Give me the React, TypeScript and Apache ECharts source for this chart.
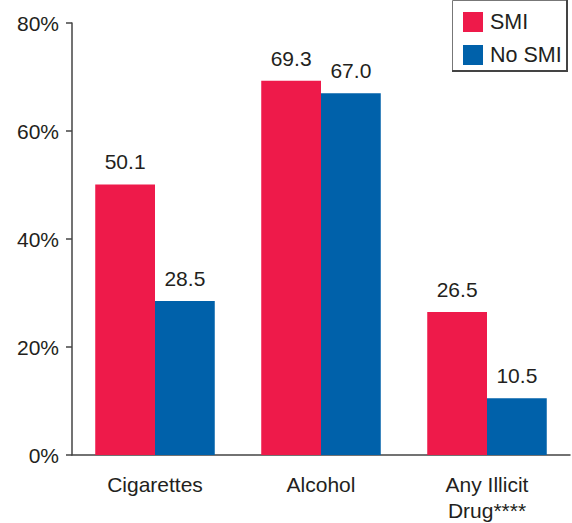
import React, { useEffect, useRef } from "react";
import * as echarts from "echarts";

const categories = ["Cigarettes", "Alcohol", "Any Illicit\nDrug****"];
const smiValues = [50.1, 69.3, 26.5];
const noSmiValues = [28.5, 67.0, 10.5];
const seriesNames = ["SMI", "No SMI"];
const yTicks = { min: 0, max: 80, interval: 20 };

const RED = "#EE1A4A";
const BLUE = "#0061AA";
const TEXT = "#231F20";
const FONT = "'Liberation Sans', Arial, Helvetica, sans-serif";

export default function App() {
  const ref = useRef<HTMLDivElement>(null);
  useEffect(() => {
    if (!ref.current) return;
    const chart = echarts.init(ref.current, undefined, { renderer: "svg" });
    const label = {
      show: true,
      position: "top",
      distance: 12,
      fontSize: 21,
      fontFamily: FONT,
      color: TEXT,
      formatter: (p: any) => Number(p.value).toFixed(1),
    };
    chart.setOption({
      animation: false,
      textStyle: { fontFamily: FONT },
      grid: { left: 72, right: 2, top: 23, bottom: 68, containLabel: false },
      legend: {
        orient: "vertical",
        left: 463,
        top: 11,
        padding: 0,
        itemWidth: 20,
        itemHeight: 20,
        itemGap: 11,
        icon: "rect",
        selectedMode: false,
        data: seriesNames,
        textStyle: { fontSize: 21.5, color: TEXT, fontFamily: FONT, padding: [0, 0, 0, 2] },
      },
      graphic: [
        {
          type: "rect",
          shape: { x: 452.5, y: 0.5, width: 114, height: 70 },
          style: { fill: "none", stroke: "#777", lineWidth: 1 },
          z: 0,
        },
        {
          type: "line",
          shape: { x1: 567, y1: 0, x2: 567, y2: 71.5 },
          style: { stroke: "#444", lineWidth: 2 },
        },
        {
          type: "line",
          shape: { x1: 452, y1: 71, x2: 568, y2: 71 },
          style: { stroke: "#444", lineWidth: 2 },
        },
      ],
      xAxis: {
        type: "category",
        data: categories,
        axisLine: { lineStyle: { color: "#444", width: 1.5 } },
        axisTick: { show: false },
        axisLabel: {
          fontSize: 21,
          color: TEXT,
          fontFamily: FONT,
          margin: 16,
          lineHeight: 26,
          interval: 0,
        },
      },
      yAxis: {
        type: "value",
        min: yTicks.min,
        max: yTicks.max,
        interval: yTicks.interval,
        axisLine: { show: true, lineStyle: { color: "#444", width: 1.5 } },
        axisTick: { show: true, length: 6, lineStyle: { color: "#444", width: 1.5 } },
        splitLine: { show: false },
        axisLabel: {
          fontSize: 21,
          color: TEXT,
          fontFamily: FONT,
          margin: 13,
          formatter: "{value}%",
        },
      },
      series: [
        {
          name: seriesNames[0],
          type: "bar",
          data: smiValues,
          barGap: "0%",
          barCategoryGap: "28%",
          itemStyle: { color: RED },
          label,
        },
        {
          name: seriesNames[1],
          type: "bar",
          data: noSmiValues,
          barGap: "0%",
          barCategoryGap: "28%",
          itemStyle: { color: BLUE },
          label,
        },
      ],
    });
    return () => chart.dispose();
  }, []);
  return (
    <div
      ref={ref}
      style={{ position: "fixed", left: 0, top: 0, width: 572, height: 523, background: "#fff" }}
    />
  );
}
